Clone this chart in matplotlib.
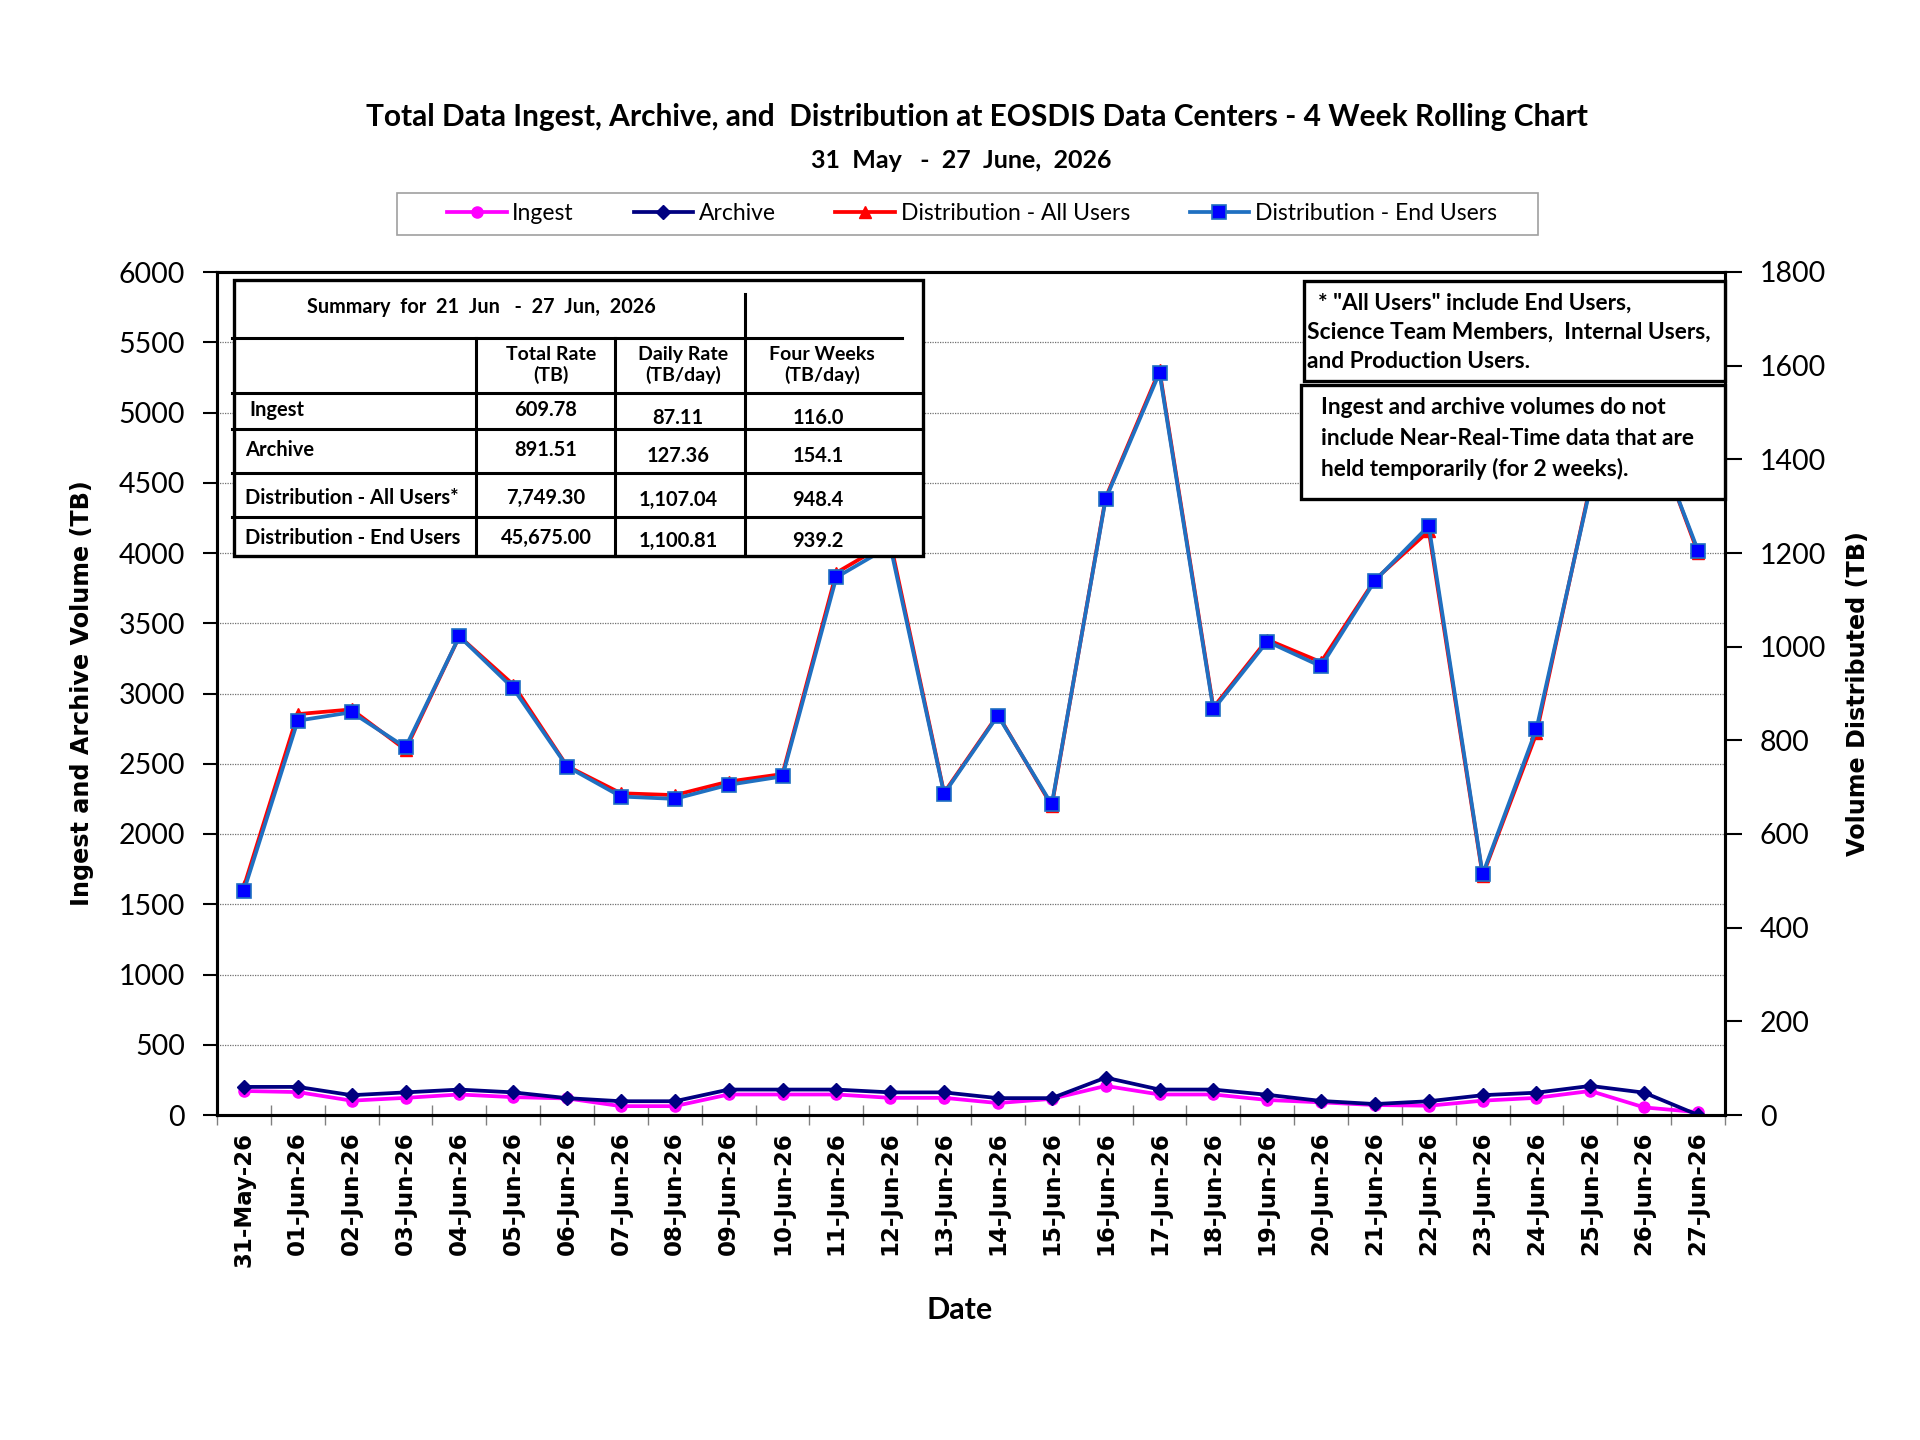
import numpy as np
import matplotlib.pyplot as plt
from matplotlib.patches import Rectangle
from matplotlib.lines import Line2D

# ---- data ----
DATES = ['31-May-26', '01-Jun-26', '02-Jun-26', '03-Jun-26', '04-Jun-26', '05-Jun-26',
         '06-Jun-26', '07-Jun-26', '08-Jun-26', '09-Jun-26', '10-Jun-26', '11-Jun-26',
         '12-Jun-26', '13-Jun-26', '14-Jun-26', '15-Jun-26', '16-Jun-26', '17-Jun-26',
         '18-Jun-26', '19-Jun-26', '20-Jun-26', '21-Jun-26', '22-Jun-26', '23-Jun-26',
         '24-Jun-26', '25-Jun-26', '26-Jun-26', '27-Jun-26']

INGEST = [171, 163, 102, 122, 146, 127, 118, 63, 63, 146, 146, 146, 122, 122,
          85, 115, 207, 146, 146, 107, 90, 71, 66, 102, 122, 171, 54, 20]
ARCHIVE = [200, 200, 141, 161, 181, 161, 120, 98, 98, 181, 181, 181, 161, 161,
           120, 120, 266, 181, 181, 144, 100, 78, 98, 141, 159, 207, 159, 0]
DIST_ALL = [488, 856, 866, 780, 1022, 919, 745, 687, 683, 712, 728, 1158, 1225, 688,
            855, 660, 1318, 1590, 870, 1015, 967, 1143, 1247, 511, 815, 1345, 1510, 1200]
DIST_END = [479, 842, 860, 785, 1022, 911, 744, 680, 675, 705, 723, 1148, 1215, 686,
            853, 663, 1315, 1585, 866, 1011, 958, 1141, 1258, 514, 825, 1340, 1505, 1205]

TABLE_TITLE = 'Summary  for  21  Jun   -  27  Jun,  2026'
TABLE_HEADS = ['Total Rate\n(TB)', 'Daily Rate\n(TB/day)', 'Four Weeks\n(TB/day)']
TABLE_ROWS = ['Ingest', 'Archive', 'Distribution - All Users*', 'Distribution - End Users']
TOTAL_RATE = ['609.78', '891.51', '7,749.30', '45,675.00']
DAILY_RATE = ['87.11', '127.36', '1,107.04', '1,100.81']
FOUR_WEEKS = ['116.0', '154.1', '948.4', '939.2']

NOTE_1 = ['  * "All Users" include End Users,',
          'Science Team Members,  Internal Users,',
          'and Production Users.']
NOTE_2 = ['Ingest and archive volumes do not',
          'include Near-Real-Time data that are',
          'held temporarily (for 2 weeks).']

TITLE = 'Total Data Ingest, Archive, and  Distribution at EOSDIS Data Centers - 4 Week Rolling Chart'
SUBTITLE = '31  May   -  27  June,  2026'

W, H = 1920, 1440
plt.rcParams['font.family'] = ['Lato', 'DejaVu Sans']

fig = plt.figure(figsize=(W / 100, H / 100), dpi=100)
ax = fig.add_axes([217 / W, 1 - 1115 / H, (1725 - 217) / W, (1115 - 272) / H])
ax2 = ax.twinx()

x = np.arange(len(DATES))

# left axis: ingest + archive
ax.plot(x, INGEST, color='#FF00FF', lw=2.7, marker='o', ms=8, zorder=3, label='Ingest')
ax.plot(x, ARCHIVE, color='#000080', lw=2.7, marker='D', ms=7, zorder=4, label='Archive')
ax.set_ylim(0, 6000)
ax.set_yticks(np.arange(0, 6001, 500))
ax.set_xlim(-0.5, len(DATES) - 0.5)
ax.grid(axis='y', color='#707070', lw=0.9, ls=(0, (1, 1)))
ax.set_axisbelow(True)

# right axis: distribution
ax2.plot(x, DIST_ALL, color='#FF0000', lw=2.7, marker='^', ms=8, zorder=3,
         label='Distribution - All Users')
ax2.plot(x, DIST_END, color='#1F70C1', lw=2.7, marker='s', ms=10, mfc='#0000FF',
         mec='#1F70C1', mew=1.2, zorder=4, label='Distribution - End Users')
ax2.set_ylim(0, 1800)
ax2.set_yticks(np.arange(0, 1801, 200))

# ticks
ax.set_xticks(x)
ax.set_xticklabels(DATES, rotation=90, family='DejaVu Sans', fontweight='bold', fontsize=16.5)
ax.set_xticks(np.arange(len(DATES) + 1) - 0.5, minor=True)
ax.tick_params(axis='x', which='major', length=0, pad=12)
ax.tick_params(axis='x', which='minor', length=14, direction='inout', color='#808080', width=1)
ax.tick_params(axis='y', length=10, width=1.5, labelsize=20.5, pad=13)
ax2.tick_params(axis='y', length=12, width=1.5, labelsize=20.5, pad=13)

for a in (ax, ax2):
    for s in a.spines.values():
        s.set_linewidth(2.2)
        s.set_color('black')

ax.set_ylabel('Ingest and Archive Volume (TB)', family='DejaVu Sans', fontweight='bold',
              fontsize=17.2, labelpad=18)
ax2.set_ylabel('Volume Distributed (TB)', family='DejaVu Sans', fontweight='bold',
               fontsize=17.2, labelpad=14)

fig.text(960 / W, 1 - 1310 / H, 'Date', ha='center', va='center', fontsize=22, fontweight='bold')
fig.text(977 / W, 1 - 117 / H, TITLE, ha='center', va='center', fontsize=21.5, fontweight='bold')
fig.text(961 / W, 1 - 160 / H, SUBTITLE, ha='center', va='center', fontsize=18, fontweight='bold')

# legend: entries without frame, frame drawn as its own rectangle (wide side padding)
fig.add_artist(Rectangle((397 / W, 1 - 235 / H), (1538 - 397) / W, (235 - 193) / H,
                         transform=fig.transFigure, facecolor='white',
                         edgecolor='#a0a0a0', lw=1.2, zorder=1))
handles = ax.get_lines() + ax2.get_lines()
leg = fig.legend(handles, [h.get_label() for h in handles], loc='center',
                 bbox_to_anchor=(972 / W, 1 - 214 / H), ncol=4, fontsize=16.5,
                 frameon=False, handlelength=2.6,
                 handletextpad=0.25, columnspacing=2.6, borderpad=0.4)
leg.set_zorder(2)


# ---- overlay boxes in figure pixels ----
def box(x0, y0, x1, y1, lw=2.4):
    fig.add_artist(Rectangle((x0 / W, 1 - y1 / H), (x1 - x0) / W, (y1 - y0) / H,
                             transform=fig.transFigure, facecolor='white',
                             edgecolor='black', lw=lw, zorder=5))


def line(x0, y0, x1, y1, lw=2.2):
    fig.add_artist(Line2D([x0 / W, x1 / W], [1 - y0 / H, 1 - y1 / H],
                          transform=fig.transFigure, color='black', lw=lw, zorder=6))


def txt(X, Y, s, ha='left', size=14.5):
    fig.text(X / W, 1 - Y / H, s, ha=ha, va='center', fontsize=size, fontweight='bold',
             zorder=7, linespacing=1.15)


# summary table
box(234, 280, 923, 556)
line(232, 338, 902, 338)
for yy in (393, 429, 473, 517):
    line(232, yy, 923, yy)
for xx in (476, 615):
    line(xx, 338, xx, 556)
line(745, 294, 745, 556)

txt(307, 307, TABLE_TITLE, size=14.3)
for cx, head in zip((551, 683, 822), TABLE_HEADS):
    txt(cx, 365, head, ha='center', size=14)
row_y = [410, 450, 498, 538]
val_y = [418, 456, 500, 541]
for i, name in enumerate(TABLE_ROWS):
    txt(249 if i == 0 else 245, row_y[i], name)
    txt(546, row_y[i], TOTAL_RATE[i], ha='center')
    txt(678, val_y[i], DAILY_RATE[i], ha='center')
    txt(818, val_y[i], FOUR_WEEKS[i], ha='center')

# notes
box(1304, 281, 1725, 381)
for i, s in enumerate(NOTE_1):
    txt(1307, 303 + 29.5 * i, s, size=16.4)
box(1301, 385, 1725, 499)
for i, s in enumerate(NOTE_2):
    txt(1321, 408 + 30.5 * i, s, size=16.4)

fig.savefig('out.png', dpi=100)
